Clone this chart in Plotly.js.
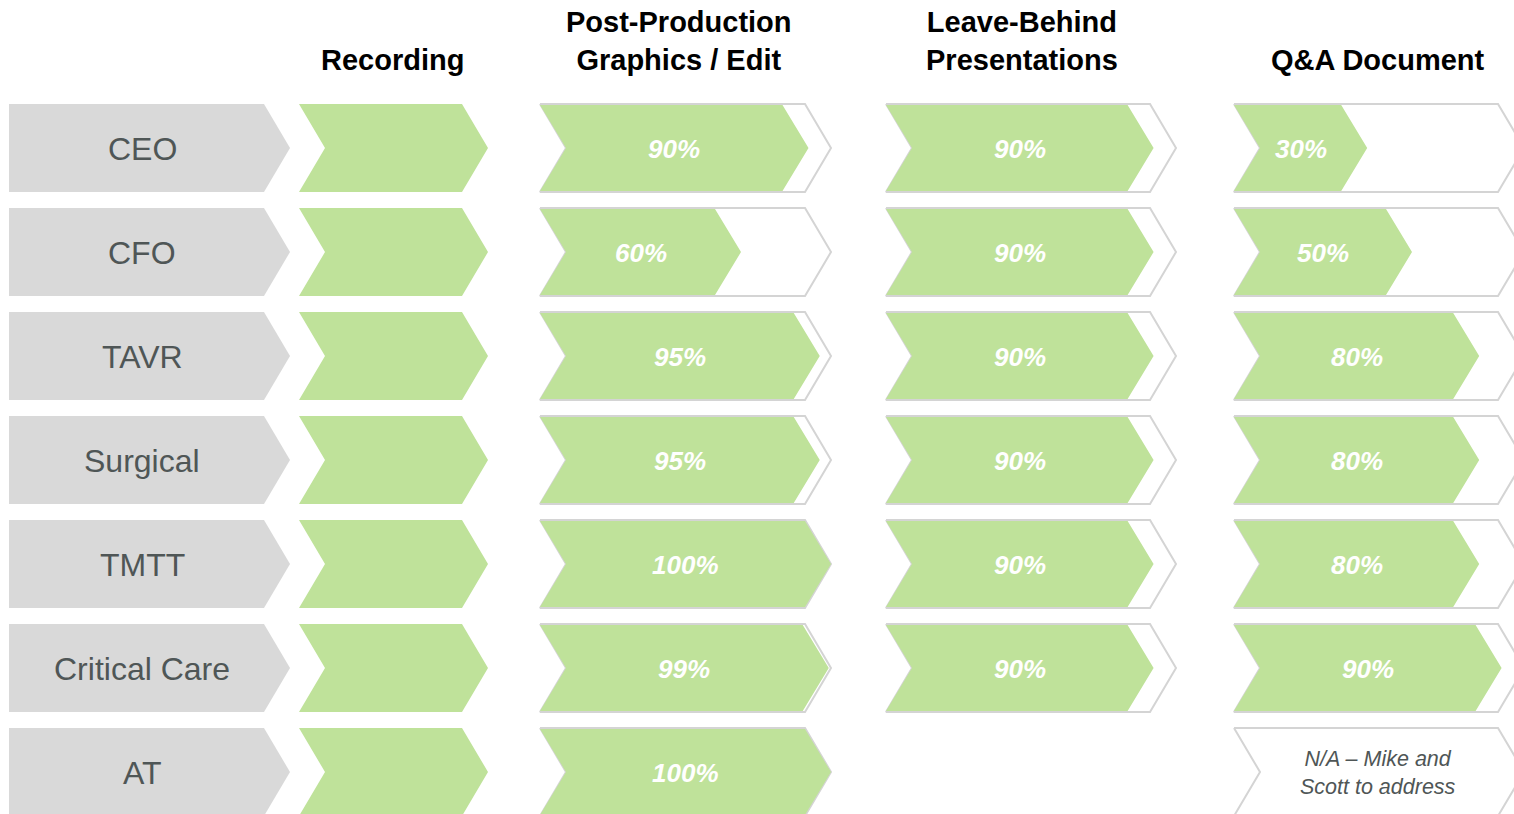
<!DOCTYPE html>
<html>
<head>
<meta charset="utf-8">
<script src="https://cdn.plot.ly/plotly-3.0.1.min.js"></script>
<style>html,body{margin:0;padding:0;background:#fff;}#chart{width:1514px;height:814px;}</style>
</head>
<body>
<div id="chart"></div>
<script>
// ---- data ----
const rows = ["CEO", "CFO", "TAVR", "Surgical", "TMTT", "Critical Care", "AT"];
const stages = ["Recording", "Post-Production<br>Graphics / Edit", "Leave-Behind<br>Presentations", "Q&A Document"];
const recording = [100, 100, 100, 100, 100, 100, 100];
const postProduction = [90, 60, 95, 95, 100, 99, 100];
const leaveBehind = [90, 90, 90, 90, 90, 90, null];
const qaDocument = [30, 50, 80, 80, 80, 90, null];
const qaNotes = [null, null, null, null, null, null, "N/A – Mike and<br>Scott to address"];
const showPercent = [false, true, true, true];

// ---- layout geometry (pixels in data space) ----
const W = 1514, H = 814;
const rowTop0 = 104, rowPitch = 104, rowH = 88;
const labelCol = {left: 9, tip: 290};
const stageCols = [
  {left: 299, tip: 488, outline: false, hdx: -1},
  {left: 540, tip: 831, outline: true, hdx: -7},
  {left: 886, tip: 1176, outline: true, hdx: -9},
  {left: 1234, tip: 1524, outline: true, hdx: -1}
];
const notch = 26, tipD = 26, minFill = 66;
const GREEN = "#bfe29a", GRAY = "#d9d9d9", OUTLINE = "#d4d4d4", LABEL = "#4f5656";
const stageValues = [recording, postProduction, leaveBehind, qaDocument];

function chevron(left, tipX, top, bottom, hasNotch) {
  const mid = (top + bottom) / 2;
  const xs = [left, tipX - tipD, tipX, tipX - tipD, left];
  const ys = [top, top, mid, bottom, bottom];
  if (hasNotch) { xs.push(left + notch); ys.push(mid); }
  xs.push(left); ys.push(top);
  return {x: xs, y: ys};
}

const traces = [];
const annotations = [];

// row label chevrons
rows.forEach((r, i) => {
  const top = rowTop0 + i * rowPitch, bottom = top + rowH;
  const p = chevron(labelCol.left, labelCol.tip, top, bottom, false);
  traces.push({x: p.x, y: p.y, mode: "lines", fill: "toself", fillcolor: GRAY,
    line: {width: 0, color: GRAY}, hoverinfo: "skip", showlegend: false});
  annotations.push({x: (labelCol.left + labelCol.tip - tipD / 2) / 2 - 1, y: (top + bottom) / 2 + 1,
    xref: "x", yref: "y", text: r, showarrow: false,
    font: {family: "Liberation Sans, Arial, sans-serif", size: 32, color: LABEL}});
});

// stage columns
stageCols.forEach((c, s) => {
  const vals = stageValues[s];
  annotations.push({x: (c.left + c.tip) / 2 + c.hdx, y: 78, xref: "x", yref: "y", yanchor: "bottom",
    text: stages[s], showarrow: false,
    font: {family: "Liberation Sans, Arial, sans-serif", size: 29, color: "#000", weight: "bold"}});
  rows.forEach((r, i) => {
    const top = rowTop0 + i * rowPitch, bottom = top + rowH, mid = (top + bottom) / 2;
    const v = vals[i];
    const note = s === 3 ? qaNotes[i] : null;
    if (v == null && !note) return;
    if (c.outline) {
      const o = chevron(c.left, c.tip, top, bottom, true);
      traces.push({x: o.x, y: o.y, mode: "lines", fill: "toself", fillcolor: "#ffffff",
        line: {width: 2, color: OUTLINE}, hoverinfo: "skip", showlegend: false});
    }
    if (v != null) {
      const total = c.tip - c.left;
      const fx = c.left + minFill + (v / 100) * (total - minFill);
      const f = chevron(c.left, fx, top + (c.outline ? 1 : 0), bottom - (c.outline ? 1 : 0), true);
      traces.push({x: f.x, y: f.y, mode: "lines", fill: "toself", fillcolor: GREEN,
        line: {width: 0, color: GREEN}, hoverinfo: "skip", showlegend: false});
      if (showPercent[s]) {
        annotations.push({x: (c.left + fx) / 2, y: mid + 1, xref: "x", yref: "y",
          text: v + "%", showarrow: false,
          font: {family: "Liberation Sans, Arial, sans-serif", size: 26, color: "#ffffff",
                 weight: "bold", style: "italic"}});
      }
    } else if (note) {
      annotations.push({x: (c.left + c.tip) / 2 - 1, y: mid + 1, xref: "x", yref: "y",
        text: note, showarrow: false,
        font: {family: "Liberation Sans, Arial, sans-serif", size: 21.5, color: LABEL, style: "italic"}});
    }
  });
});

const layout = {
  width: W, height: H,
  margin: {l: 0, r: 0, t: 0, b: 0},
  paper_bgcolor: "#ffffff", plot_bgcolor: "#ffffff",
  xaxis: {range: [0, W], visible: false, fixedrange: true},
  yaxis: {range: [H, 0], visible: false, fixedrange: true},
  annotations: annotations,
  showlegend: false
};
Plotly.newPlot("chart", traces, layout, {displayModeBar: false, staticPlot: true});
</script>
</body>
</html>
